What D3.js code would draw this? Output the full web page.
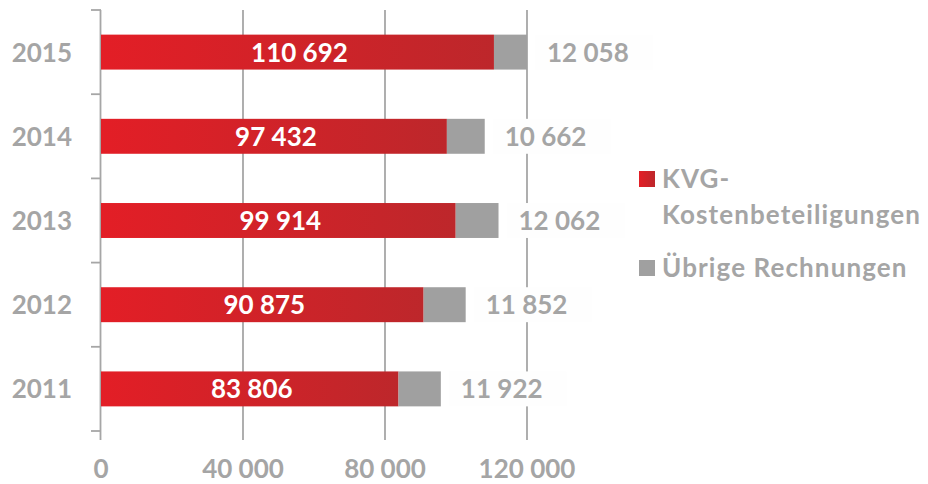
<!DOCTYPE html>
<meta charset="utf-8">
<script src="https://cdn.jsdelivr.net/npm/d3@7"></script>
<style type="text/css">
    body { margin: 0; background: #fff; }
    svg text {
        font-family: Lato, "Open Sans", sans-serif;
        font-weight: bold;
    }
    .gray { fill: #a5a5a5; }
</style>

<body>
    <script type="text/javascript">
        // chart data
        var years = ["2015", "2014", "2013", "2012", "2011"];
        var kvgValues = [110692, 97432, 99914, 90875, 83806];
        var otherValues = [12058, 10662, 12062, 11852, 11922];
        var xTicks = [0, 40000, 80000, 120000];
        var legendLabels = [["KVG-", "Kostenbeteiligungen"], ["Übrige Rechnungen"]];

        var width = 928, height = 484;

        var svg = d3.select("body").append("svg")
            .attr("width", width)
            .attr("height", height);

        var fmt = d3.formatLocale({ decimal: ",", thousands: " ", grouping: [3], currency: ["", ""] }).format(",d");

        var xScale = d3.scaleLinear()
            .domain([0, 120000])
            .range([101, 527]);

        var yScale = d3.scaleBand()
            .domain(years)
            .range([10, 431])
            .paddingInner(0.585)
            .paddingOuter(0.2925);

        var defs = svg.append("defs");
        var grad = defs.append("linearGradient")
            .attr("id", "redGrad")
            .attr("x1", "0%").attr("x2", "100%")
            .attr("y1", "0%").attr("y2", "0%");
        grad.append("stop").attr("offset", "0%").attr("stop-color", "#e31e26");
        grad.append("stop").attr("offset", "100%").attr("stop-color", "#bd272b");

        defs.append("clipPath").attr("id", "plotClip")
            .append("rect")
            .attr("x", xScale(0)).attr("y", 0)
            .attr("width", xScale(120000) - xScale(0))
            .attr("height", height);

        // vertical gridlines
        svg.selectAll(".grid")
            .data(xTicks.slice(1))
            .enter().append("line")
            .attr("x1", d => xScale(d)).attr("x2", d => xScale(d))
            .attr("y1", 10).attr("y2", 440)
            .style("stroke", "#a6a6a6")
            .style("stroke-width", 1.8);

        // category axis
        svg.append("line")
            .attr("x1", 100.5).attr("x2", 100.5)
            .attr("y1", 10).attr("y2", 440)
            .style("stroke", "#a6a6a6")
            .style("stroke-width", 1.8);

        var step = yScale.step();
        svg.selectAll(".ctick")
            .data(d3.range(years.length + 1))
            .enter().append("line")
            .attr("x1", 91).attr("x2", 101)
            .attr("y1", i => 10 + i * step).attr("y2", i => 10 + i * step)
            .style("stroke", "#a6a6a6")
            .style("stroke-width", 1.8);

        var rows = years.map(function (y, i) {
            return { year: y, kvg: kvgValues[i], other: otherValues[i] };
        });

        var bars = svg.append("g").attr("clip-path", "url(#plotClip)");

        bars.selectAll(".red")
            .data(rows)
            .enter().append("rect")
            .attr("x", xScale(0))
            .attr("y", d => yScale(d.year))
            .attr("width", d => xScale(d.kvg) - xScale(0))
            .attr("height", yScale.bandwidth())
            .style("fill", "url(#redGrad)");

        bars.selectAll(".grey")
            .data(rows)
            .enter().append("rect")
            .attr("x", d => xScale(d.kvg))
            .attr("y", d => yScale(d.year))
            .attr("width", d => xScale(d.kvg + d.other) - xScale(d.kvg))
            .attr("height", yScale.bandwidth())
            .style("fill", "#a0a0a0");

        // value labels inside red bars
        svg.selectAll(".kvgLabel")
            .data(rows)
            .enter().append("text")
            .attr("x", d => (xScale(0) + xScale(d.kvg)) / 2 + 2)
            .attr("y", d => yScale(d.year) + yScale.bandwidth() / 2 + 9.5)
            .style("text-anchor", "middle")
            .style("font-size", "26px")
            .style("fill", "#fff")
            .text(d => fmt(d.kvg));

        // labels for the other bills, on a faint white box
        var otherLabels = svg.selectAll(".otherLabel")
            .data(rows)
            .enter().append("g");

        otherLabels.append("rect")
            .attr("x", d => Math.min(xScale(d.kvg + d.other), xScale(120000)) + 8)
            .attr("y", d => yScale(d.year))
            .attr("width", 118)
            .attr("height", yScale.bandwidth())
            .style("fill", "#fefefe");

        otherLabels.append("text")
            .attr("class", "gray")
            .attr("x", d => Math.min(xScale(d.kvg + d.other), xScale(120000)) + 20)
            .attr("y", d => yScale(d.year) + yScale.bandwidth() / 2 + 9.5)
            .style("font-size", "26px")
            .text(d => fmt(d.other));

        // year labels
        svg.selectAll(".year")
            .data(years)
            .enter().append("text")
            .attr("class", "gray")
            .attr("x", 72)
            .attr("y", d => yScale(d) + yScale.bandwidth() / 2 + 9.5)
            .style("text-anchor", "end")
            .style("font-size", "26px")
            .text(d => d);

        // x tick labels
        svg.selectAll(".xlabel")
            .data(xTicks)
            .enter().append("text")
            .attr("class", "gray")
            .attr("x", d => xScale(d))
            .attr("y", 478)
            .style("text-anchor", "middle")
            .style("font-size", "26px")
            .text(d => fmt(d));

        // legend
        var legendColors = ["url(#redGrad)", "#a0a0a0"];
        var legendY = [171, 260];
        var legend = svg.selectAll(".legend")
            .data(legendLabels)
            .enter().append("g")
            .attr("transform", (d, i) => "translate(639," + legendY[i] + ")");

        legend.append("rect")
            .attr("width", 16)
            .attr("height", 16)
            .style("fill", (d, i) => legendColors[i]);

        legend.each(function (lines) {
            var t = d3.select(this).append("text")
                .attr("class", "gray")
                .style("font-size", "26px")
                .style("letter-spacing", "1.1px");
            lines.forEach(function (line, j) {
                t.append("tspan")
                    .attr("x", 23)
                    .attr("y", 17 + j * 36)
                    .text(line);
            });
        });
    </script>
</body>
